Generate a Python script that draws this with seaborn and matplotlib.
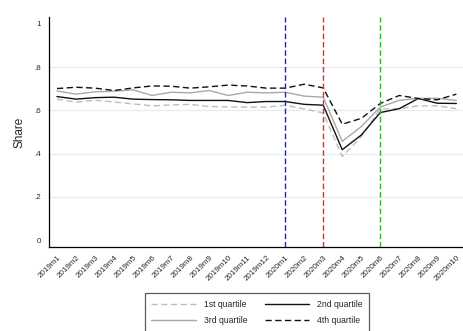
import matplotlib
matplotlib.use("Agg")
import matplotlib.pyplot as plt
import seaborn as sns
import pandas as pd

months = ["2019m1", "2019m2", "2019m3", "2019m4", "2019m5", "2019m6", "2019m7",
          "2019m8", "2019m9", "2019m10", "2019m11", "2019m12", "2020m1", "2020m2",
          "2020m3", "2020m4", "2020m5", "2020m6", "2020m7", "2020m8", "2020m9", "2020m10"]

q1 = [0.652, 0.638, 0.647, 0.639, 0.630, 0.621, 0.625, 0.628, 0.618, 0.616, 0.615,
      0.615, 0.624, 0.607, 0.588, 0.387, 0.478, 0.607, 0.608, 0.621, 0.621, 0.608]
q2 = [0.664, 0.652, 0.659, 0.661, 0.652, 0.650, 0.649, 0.646, 0.646, 0.646, 0.636,
      0.641, 0.641, 0.628, 0.624, 0.418, 0.486, 0.590, 0.608, 0.655, 0.633, 0.632]
q3 = [0.690, 0.675, 0.686, 0.689, 0.695, 0.669, 0.684, 0.681, 0.692, 0.669, 0.684,
      0.681, 0.684, 0.666, 0.661, 0.457, 0.525, 0.615, 0.647, 0.655, 0.656, 0.646]
q4 = [0.701, 0.707, 0.703, 0.692, 0.704, 0.713, 0.712, 0.703, 0.709, 0.717, 0.713,
      0.703, 0.703, 0.721, 0.704, 0.536, 0.563, 0.632, 0.669, 0.655, 0.649, 0.675]

series_names = ["1st quartile", "2nd quartile", "3rd quartile", "4th quartile"]
yticks = [0, 0.2, 0.4, 0.6, 0.8, 1.0]
ytick_labels = ["0", ".2", ".4", ".6", ".8", "1"]
event_months = ["2020m1", "2020m3", "2020m6"]
event_colors = ["#1a1aff", "#ff2020", "#33b033"]

sns.set_theme(style="white")
plt.rcParams["font.family"] = ["Liberation Sans", "DejaVu Sans"]

fig = plt.figure(figsize=(4.63, 3.31), dpi=100)
ax = fig.add_axes([0.1058, 0.2538, 0.8942, 0.6948])

idx = list(range(len(months)))
styles = {
    "1st quartile": dict(color="#bdbdbd", dashes=(4.5, 2.5)),
    "2nd quartile": dict(color="#111111", dashes=None),
    "3rd quartile": dict(color="#a8a8a8", dashes=None),
    "4th quartile": dict(color="#111111", dashes=(4.5, 2.5)),
}
data = {"1st quartile": q1, "2nd quartile": q2, "3rd quartile": q3, "4th quartile": q4}

for y in [0.2, 0.4, 0.6, 0.8]:
    ax.axhline(y, color="#e3ecef", lw=0.8, zorder=0)

lines = {}
for name in series_names:
    df = pd.DataFrame({"x": idx, "y": data[name]})
    st = styles[name]
    sns.lineplot(data=df, x="x", y="y", ax=ax, color=st["color"], lw=1.0, label=name)
    ln = ax.get_lines()[-1]
    if st["dashes"] is not None:
        ln.set_dashes(st["dashes"])
    lines[name] = ln

for m, c in zip(event_months, event_colors):
    ax.axvline(months.index(m), color=c, lw=1.0, dashes=(4, 2), zorder=3)

ax.set_xlim(-0.42, 21.35)
ax.set_ylim(-0.032, 1.032)
ax.set_xticks(idx)
ax.set_xticklabels(months, rotation=45, ha="right", rotation_mode="anchor", fontsize=5.8)
ax.set_yticks(yticks)
ax.set_yticklabels(ytick_labels, fontsize=5.8)
ax.tick_params(axis="x", direction="out", length=3.5, width=0.8, color="black", pad=1.5)
ax.tick_params(axis="y", direction="out", length=3, width=0.8, color="black", pad=3)
ax.set_xlabel("")
ax.set_ylabel("Share", fontsize=8.5, labelpad=6)
for s in ["top", "right"]:
    ax.spines[s].set_visible(False)
for s in ["left", "bottom"]:
    ax.spines[s].set_color("black")
    ax.spines[s].set_linewidth(0.9)

if ax.get_legend():
    ax.get_legend().remove()
order = ["1st quartile", "3rd quartile", "2nd quartile", "4th quartile"]
leg = fig.legend([lines[n] for n in order], order, ncol=2, loc="upper center",
                 bbox_to_anchor=(0.555, 0.127), fontsize=6.2, frameon=True,
                 fancybox=False, edgecolor="#333333", handlelength=5.2,
                 columnspacing=2.0, borderpad=0.75, labelspacing=0.9, handletextpad=0.9)
leg.get_frame().set_linewidth(0.9)

fig.savefig("out.png", dpi=100)
